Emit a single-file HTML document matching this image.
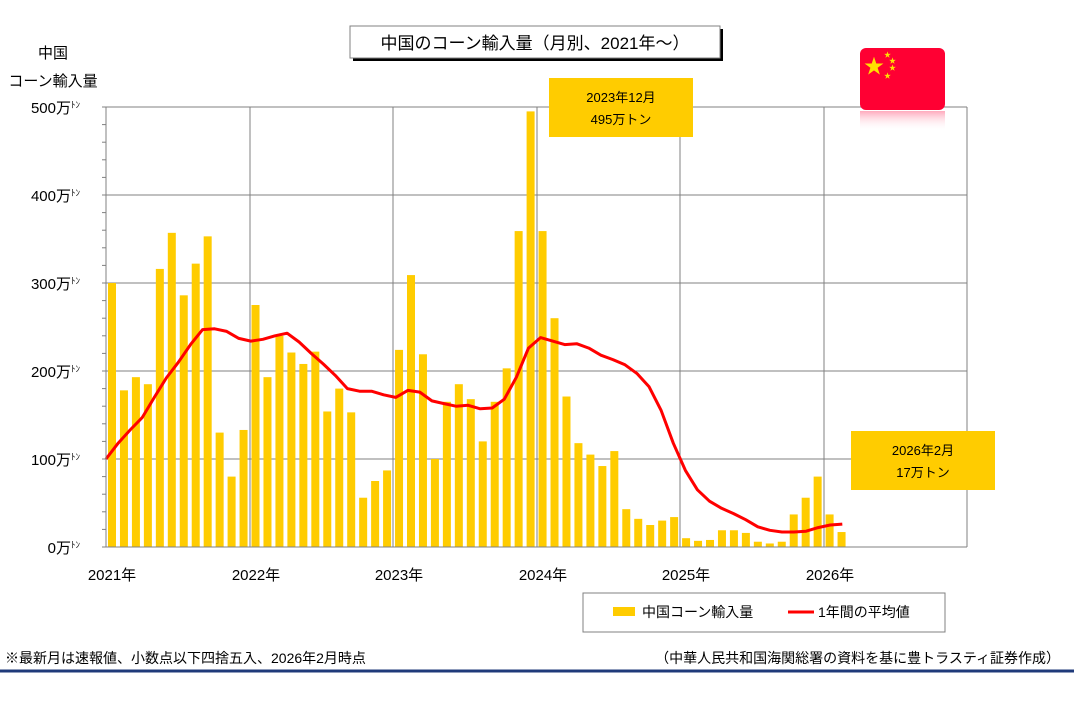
<!DOCTYPE html>
<html><head><meta charset="utf-8"><style>
body{margin:0;background:#fff;width:1074px;height:707px;overflow:hidden;font-family:"Liberation Sans","Noto Sans CJK JP",sans-serif;}
svg text{font-family:"Liberation Sans","Noto Sans CJK JP",sans-serif;}
</style></head><body>
<svg id="s" width="1074" height="707" xmlns="http://www.w3.org/2000/svg">
<defs><linearGradient id="rf" x1="0" y1="0" x2="0" y2="1"><stop offset="0" stop-color="#FF7090" stop-opacity="0.6"/><stop offset="1" stop-color="#FFFFFF" stop-opacity="0"/></linearGradient></defs>
<g id="grid" stroke="#808080" stroke-width="1"></g>
<g id="bars" fill="#FFCC00"></g>
<polyline id="ln" fill="none" stroke="#FF0000" stroke-width="3" stroke-linejoin="round"/>
<line x1="106" y1="547" x2="967" y2="547" stroke="#808080"/>
<line x1="106" y1="107" x2="106" y2="547" stroke="#808080"/>
<g font-size="15" fill="#000" text-anchor="end">
<text x="80" y="113">500万<tspan font-size="9" dy="-5">ﾄﾝ</tspan></text>
<text x="80" y="201">400万<tspan font-size="9" dy="-5">ﾄﾝ</tspan></text>
<text x="80" y="289">300万<tspan font-size="9" dy="-5">ﾄﾝ</tspan></text>
<text x="80" y="377">200万<tspan font-size="9" dy="-5">ﾄﾝ</tspan></text>
<text x="80" y="465">100万<tspan font-size="9" dy="-5">ﾄﾝ</tspan></text>
<text x="80" y="553">0万<tspan font-size="9" dy="-5">ﾄﾝ</tspan></text>
</g>
<g font-size="15" text-anchor="middle">
<text x="53" y="58">中国</text>
<text x="53" y="86">コーン輸入量</text>
<text x="112" y="580">2021年</text><text x="256" y="580">2022年</text><text x="399" y="580">2023年</text>
<text x="543" y="580">2024年</text><text x="686" y="580">2025年</text><text x="830" y="580">2026年</text>
</g>
<rect x="353" y="29" width="370" height="32" fill="#000"/>
<rect x="350" y="26" width="370" height="32" fill="#fff" stroke="#808080"/>
<text x="535" y="49" font-size="17" text-anchor="middle">中国のコーン輸入量（月別、2021年～）</text>
<rect x="860" y="48" width="85" height="62" rx="6" fill="#FF0033"/>
<rect x="860" y="111" width="85" height="20" fill="url(#rf)"/>
<text x="874" y="73" font-size="20" fill="#FFE000" text-anchor="middle">★</text>
<g font-size="7" fill="#FFE000"><text x="884" y="57">★</text><text x="889" y="63">★</text><text x="889" y="70">★</text><text x="884" y="78">★</text></g>
<rect x="549" y="78" width="144" height="59" fill="#FFCC00"/>
<text x="621" y="102" font-size="13" text-anchor="middle">2023年12月</text>
<text x="621" y="124" font-size="13" text-anchor="middle">495万トン</text>
<rect x="851" y="431" width="144" height="59" fill="#FFCC00"/>
<text x="923" y="455" font-size="13" text-anchor="middle">2026年2月</text>
<text x="923" y="477" font-size="13" text-anchor="middle">17万トン</text>
<rect x="583" y="593" width="362" height="39" fill="#fff" stroke="#808080"/>
<rect x="613" y="607" width="22" height="9" fill="#FFCC00"/>
<text x="642" y="617" font-size="14">中国コーン輸入量</text>
<line x1="788" y1="612" x2="814" y2="612" stroke="#FF0000" stroke-width="3"/>
<text x="818" y="617" font-size="14">1年間の平均値</text>
<text x="5" y="663" font-size="14">※最新月は速報値、小数点以下四捨五入、2026年2月時点</text>
<text x="1060" y="663" font-size="14" text-anchor="end">（中華人民共和国海関総署の資料を基に豊トラスティ証券作成）</text>
<line x1="0" y1="671" x2="1074" y2="671" stroke="#1F3A7A" stroke-width="3"/>
</svg>
<script>
var ns="http://www.w3.org/2000/svg";
function el(p,t,a){var e=document.createElementNS(ns,t);for(var k in a)e.setAttribute(k,a[k]);document.getElementById(p).appendChild(e);}
for(var v=100;v<=500;v+=100){var y=547-v*0.88;el("grid","line",{x1:106,x2:967,y1:y,y2:y});}
[250,393,537,680,824,967].forEach(function(x){el("grid","line",{x1:x,x2:x,y1:107,y2:547});});
for(var v=0;v<=500;v+=20){var y=547-v*0.88;el("grid","line",{x1:102,x2:106,y1:y,y2:y});}
var b=[300,178,193,185,316,357,286,322,353,130,80,133,275,193,240,221,208,222,154,180,153,56,75,87,224,309,219,100,165,185,168,120,165,203,359,495,359,260,171,118,105,92,109,43,32,25,30,34,10,7,8,19,19,16,6,4,6,37,56,80,37,17];
b.forEach(function(v,i){el("bars","rect",{x:108+i*11.96,y:547-v*0.88,width:8,height:v*0.88});});
var l=[100,118,133,147,170,192,210,230,247,248,245,237,234,236,240,243,233,220,208,195,180,177,177,173,170,178,176,166,163,160,161,157,158,168,193,226,238,234,230,231,226,218,213,207,197,182,155,118,87,65,52,44,38,31,23,19,17,17,18,22,25,26];
document.getElementById("ln").setAttribute("points",l.map(function(v,i){return (106+i*12.07).toFixed(1)+","+(547-v*0.88).toFixed(1);}).join(" "));
</script>
</body></html>
